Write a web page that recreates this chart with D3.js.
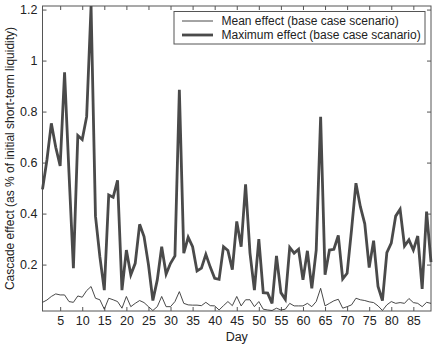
<!DOCTYPE html>
<html>
<head>
<meta charset="utf-8">
<script src="https://cdn.jsdelivr.net/npm/d3@7"></script>
<style>
  body { margin: 0; background: #fff; }
  text { font-family: "Liberation Sans", Arial, sans-serif; fill: #222; }
</style>
</head>
<body>
<div id="container"></div>
<script>
/* CONSTANTS AND GLOBALS */
const width = 434,
  height = 346,
  margin = { top: 6, bottom: 35, left: 42.5, right: 3 }

/* DATA */
const days = d3.range(1, 90)

const maxEffect = [
  0.495, 0.61, 0.754, 0.66, 0.587, 0.954, 0.56, 0.186, 0.706, 0.69,
  0.78, 1.214, 0.39, 0.23, 0.10, 0.473, 0.464, 0.53, 0.10, 0.257,
  0.16, 0.205, 0.358, 0.31, 0.20, 0.059, 0.14, 0.27, 0.163, 0.205,
  0.234, 0.885, 0.245, 0.307, 0.27, 0.175, 0.186, 0.24, 0.19, 0.146,
  0.142, 0.27, 0.255, 0.18, 0.369, 0.27, 0.515, 0.245, 0.10, 0.30,
  0.09, 0.088, 0.048, 0.234, 0.09, 0.064, 0.267, 0.245, 0.26, 0.14,
  0.254, 0.107, 0.257, 0.78, 0.16, 0.257, 0.26, 0.314, 0.144, 0.166,
  0.336, 0.519, 0.427, 0.36, 0.188, 0.294, 0.114, 0.059, 0.247, 0.284,
  0.39, 0.417, 0.273, 0.297, 0.257, 0.312, 0.105, 0.408, 0.21
]

const meanEffect = [
  0.052, 0.061, 0.075, 0.085, 0.081, 0.081, 0.055, 0.052, 0.077, 0.072,
  0.098, 0.114, 0.068, 0.062, 0.025, 0.068, 0.062, 0.055, 0.029, 0.075,
  0.035, 0.048, 0.059, 0.051, 0.035, 0.02, 0.035, 0.075, 0.035, 0.035,
  0.055, 0.094, 0.048, 0.042, 0.041, 0.041, 0.039, 0.052, 0.039, 0.038,
  0.022, 0.039, 0.055, 0.039, 0.075, 0.038, 0.062, 0.062, 0.035, 0.055,
  0.025, 0.022, 0.02, 0.029, 0.022, 0.025, 0.048, 0.038, 0.038, 0.038,
  0.048, 0.035, 0.055, 0.107, 0.038, 0.048, 0.058, 0.064, 0.029, 0.035,
  0.042, 0.068, 0.062, 0.059, 0.054, 0.051, 0.038, 0.02, 0.042, 0.055,
  0.048, 0.051, 0.048, 0.067, 0.051, 0.048, 0.035, 0.052, 0.048
]

const xTicks = d3.range(5, 90, 5)
const yTicks = [0.2, 0.4, 0.6, 0.8, 1, 1.2]

const legendLabels = ["Mean effect (base case scenario)", "Maximum effect (base case scanario)"]

const svg = d3.select("#container")
  .append("svg")
  .attr("width", width)
  .attr("height", height)

//scales
const xScale = d3.scaleLinear()
  .domain([1, 89])
  .range([margin.left, width - margin.right])

const yScale = d3.scaleLinear()
  .domain([0.018, 1.214])
  .range([height - margin.bottom, margin.top])

const axisColor = "#555"

//x-axis
const xAxis = d3.axisBottom(xScale)
  .tickValues(xTicks)
  .tickSizeInner(-4)
  .tickSizeOuter(0)
  .tickPadding(5)

svg.append("g")
  .attr("class", "x-axis")
  .attr("transform", `translate(0, ${height - margin.bottom})`)
  .call(xAxis)

svg.append("g")
  .attr("class", "x-axis-top")
  .attr("transform", `translate(0, ${margin.top})`)
  .call(d3.axisTop(xScale).tickValues(xTicks).tickSizeInner(-4).tickSizeOuter(0).tickFormat(""))

svg.append("text")
  .attr("class", "xAxisLabel")
  .attr("x", (margin.left + width - margin.right) / 2)
  .attr("y", height - 5)
  .attr("text-anchor", "middle")
  .attr("font-size", "12.5px")
  .text("Day")

//y-axis
const yAxis = d3.axisLeft(yScale)
  .tickValues(yTicks)
  .tickFormat(d3.format("~g"))
  .tickSizeInner(-4)
  .tickSizeOuter(0)
  .tickPadding(5)

svg.append("g")
  .attr("class", "y-axis")
  .attr("transform", `translate(${margin.left}, 0)`)
  .call(yAxis)

svg.append("g")
  .attr("class", "y-axis-right")
  .attr("transform", `translate(${width - margin.right}, 0)`)
  .call(d3.axisRight(yScale).tickValues(yTicks).tickSizeInner(-4).tickSizeOuter(0).tickFormat(""))

svg.selectAll(".domain").remove()
svg.selectAll(".tick line").attr("stroke", axisColor)
svg.selectAll(".x-axis text, .y-axis text")
  .attr("font-size", "12.5px")
  .attr("fill", "#222")
  .style("font-family", "'Liberation Sans', Arial, sans-serif")

svg.append("text")
  .attr("class", "yAxisLabel")
  .attr("transform", `translate(14, ${(margin.top + height - margin.bottom) / 2}) rotate(-90)`)
  .attr("text-anchor", "middle")
  .attr("font-size", "12px")
  .text("Cascade effect (as % of initial short-term liquidity)")

//box
svg.append("rect")
  .attr("x", margin.left)
  .attr("y", margin.top)
  .attr("width", width - margin.right - margin.left)
  .attr("height", height - margin.bottom - margin.top)
  .attr("fill", "none")
  .attr("stroke", axisColor)
  .attr("stroke-width", 1)

//lines
const lineGen = d3.line()
  .x((d, i) => xScale(days[i]))
  .y(d => yScale(d))

svg.append("path")
  .datum(meanEffect)
  .attr("class", "mean-line")
  .attr("fill", "none")
  .attr("stroke", "#333")
  .attr("stroke-width", 0.9)
  .attr("d", lineGen)

svg.append("path")
  .datum(maxEffect)
  .attr("class", "max-line")
  .attr("fill", "none")
  .attr("stroke", "#4a4a4a")
  .attr("stroke-width", 2.8)
  .attr("stroke-linejoin", "miter")
  .attr("d", lineGen)

//legend
const legend = svg.append("g")
  .attr("class", "legend")
  .attr("transform", "translate(174, 11.5)")

legend.append("rect")
  .attr("width", 251)
  .attr("height", 32.5)
  .attr("fill", "#fff")
  .attr("stroke", axisColor)

legendLabels.forEach((label, i) => {
  const y = 9.5 + i * 14
  legend.append("line")
    .attr("x1", 8).attr("x2", 39)
    .attr("y1", y).attr("y2", y)
    .attr("stroke", i === 0 ? "#333" : "#4a4a4a")
    .attr("stroke-width", i === 0 ? 0.9 : 2.8)
  legend.append("text")
    .attr("x", 47.5)
    .attr("y", y + 4.3)
    .attr("font-size", "12px")
    .text(label)
})
</script>
</body>
</html>
